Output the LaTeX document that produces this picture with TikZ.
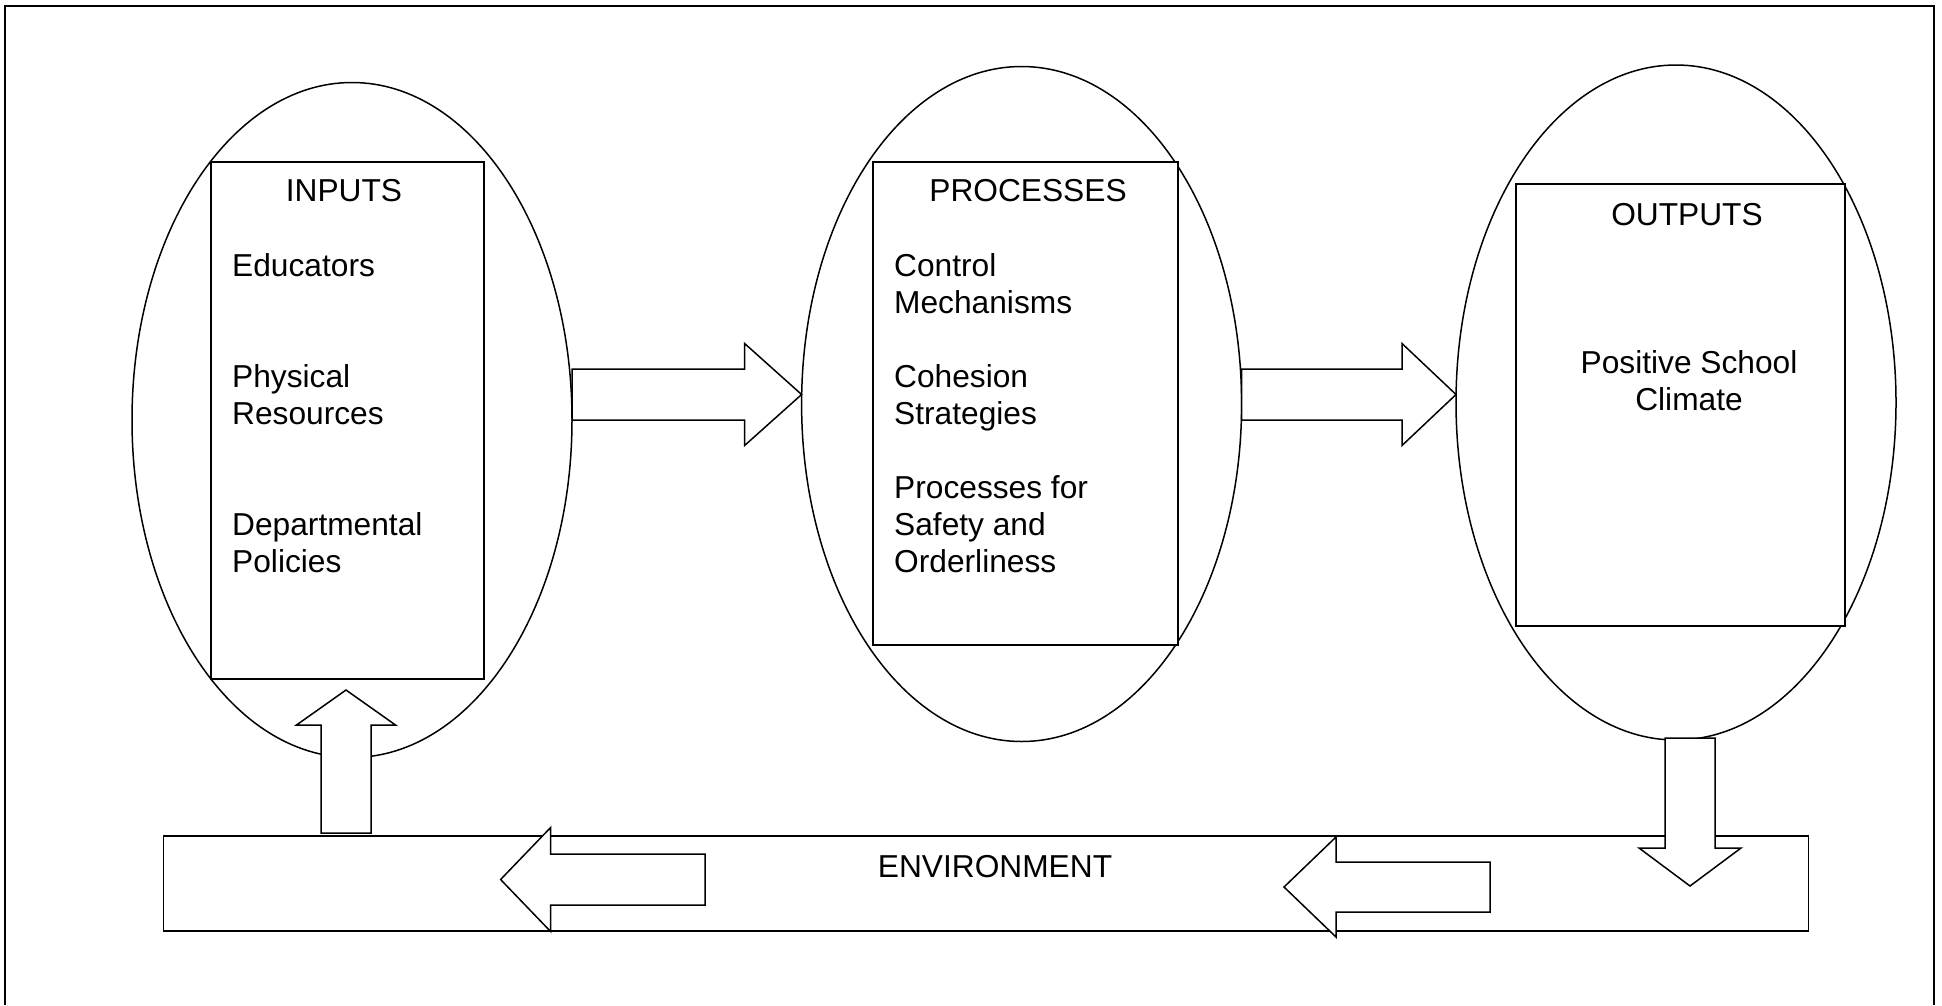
\documentclass[tikz,border=0pt]{standalone}
\usepackage{fontspec}
\setmainfont{Liberation Sans}
\usetikzlibrary{calc,shapes.geometric}
\newcommand{\figfont}{\fontsize{31.7pt}{37pt}\selectfont}
\tikzset{
  phase/.style={ellipse,draw,line width=1.5pt,minimum width=440pt,
    minimum height=675pt,inner sep=0pt,outer sep=0pt},
  panel/.style={draw,fill=white,line width=1.8pt,inner sep=0pt,outer sep=0pt},
  heading/.style={anchor=base,inner sep=0pt,font=\figfont},
  items/.style={anchor=base west,inner sep=0pt,align=left,font=\figfont},
  blockline/.style={draw,fill=white,line width=1.5pt,line join=miter},
  frame/.style={line width=2.4pt}
}
% block arrow: from, to, half shaft, half head, head length
\newcommand{\blockarrow}[5]{%
  \draw[blockline] ($(#1)!#3!90:(#2)$) -- ($(#2)!#5!(#1)!#3!-90:(#1)$)
    -- ($(#2)!#5!(#1)!#4!-90:(#1)$) -- (#2) -- ($(#2)!#5!(#1)!#4!90:(#1)$)
    -- ($(#2)!#5!(#1)!#3!90:(#1)$) -- ($(#1)!#3!-90:(#2)$) -- cycle;}

\begin{document}
\begin{tikzpicture}[x=1pt,y=-1pt]
  \useasboundingbox (0,0) rectangle (1942,1005);
  \draw[frame] (5,1005) |- (1934,5.7) -- (1934,1005);

  % the three phases
  \node[phase] (inputs) at (352,420) {};
  \node[phase] (processes) at (1021.6,404) {};
  \node[phase] (outputs) at (1676,402.5) {};
  \node[panel,minimum width=273pt,minimum height=517.3pt] (inputsbox) at (347.5,420.4) {};
  \node[panel,minimum width=305pt,minimum height=483.3pt] (processesbox) at (1025.5,403.4) {};
  \node[panel,minimum width=329pt,minimum height=442pt] (outputsbox) at (1680.5,405) {};

  \node[heading] (inputstitle) at ($(inputsbox.north)+(-3.5,40)$) {INPUTS};
  \node[items] (inputslist) at ($(inputsbox.north west)+(21,410.3)$)
    {Educators\\[74pt]Physical\\Resources\\[74pt]Departmental\\Policies};
  \node[heading] (processestitle) at ($(processesbox.north)+(2.5,40)$) {PROCESSES};
  \node[items] (processeslist) at ($(processesbox.north west)+(21,410.3)$)
    {Control\\Mechanisms\\[37pt]Cohesion\\Strategies\\[37pt]Processes for\\Safety and\\Orderliness};
  \node[heading] (outputstitle) at ($(outputsbox.north)+(6.5,41)$) {OUTPUTS};
  \node[heading,align=center] (outputslist) at ($(outputsbox.north)+(8.5,226)$)
    {Positive School\\Climate};

  % environment
  \node[panel,minimum width=1645pt,minimum height=95pt] (environment) at (986,883.5) {};
  \node[heading] (environmenttitle) at ($(environment.north)+(9,41)$) {ENVIRONMENT};

  \coordinate (flow) at (0,394.5);
  \coordinate (inputsend) at (inputs.east |- flow);
  \coordinate (processesin) at (processes.west |- flow);
  \coordinate (processesend) at (processes.east |- flow);
  \coordinate (outputsin) at (outputs.west |- flow);
  \coordinate (feedback) at (346,833);
  \coordinate (feedtip) at (346,690);
  \coordinate (release) at (1690,738);
  \coordinate (releasetip) at (1690,886);
  \coordinate (returnright) at (1490,887);
  \coordinate (returnrighttip) at (1284,887);
  \coordinate (returnleft) at (705,879.5);
  \coordinate (returnlefttip) at (500.6,879.5);

  \blockarrow{inputsend}{processesin}{25.5pt}{51pt}{57pt}
  \blockarrow{processesend}{outputsin}{25.5pt}{51pt}{54pt}
  \blockarrow{release}{releasetip}{25pt}{51pt}{38pt}
  \blockarrow{returnright}{returnrighttip}{25pt}{50pt}{52pt}
  \blockarrow{returnleft}{returnlefttip}{25.5pt}{52pt}{50pt}
  \blockarrow{feedback}{feedtip}{25pt}{49.5pt}{35pt}
\end{tikzpicture}
\end{document}
